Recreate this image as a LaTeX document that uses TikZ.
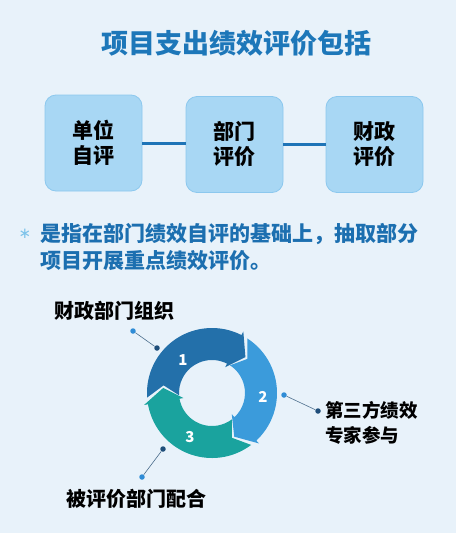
\documentclass[tikz,border=0pt]{standalone}
\usepackage{fontspec}
\newfontfamily\cjk{Noto Sans CJK SC}
\newfontfamily\dejavu{DejaVu Sans}
\definecolor{bgc}{HTML}{E8F2FA}
\definecolor{titlec}{HTML}{1D77B9}
\definecolor{textc}{HTML}{1C6FB0}
\definecolor{boxfill}{HTML}{A8D7F4}
\definecolor{boxline}{HTML}{8CC8EE}
\definecolor{linkc}{HTML}{1E74B7}
\definecolor{segA}{HTML}{2370AA}
\definecolor{segB}{HTML}{3B9BDB}
\definecolor{segC}{HTML}{1AA39E}
\definecolor{dotlc}{HTML}{2F8CD6}
\definecolor{dotdc}{HTML}{1F4E7A}
\definecolor{leadc}{HTML}{4C6E8C}
\definecolor{starc}{HTML}{7CC3EA}
\tikzset{
  box/.style={draw=boxline, line width=0.8pt, fill=boxfill, rounded corners=11pt,
    minimum width=97pt, minimum height=96pt, inner sep=0pt, align=center,
    font=\cjk\bfseries\fontsize{21}{25}\selectfont, text=black},
  link/.style={draw=linkc, line width=3pt},
  lbl/.style={inner sep=0pt, font=\cjk\bfseries\fontsize{20}{25}\selectfont, text=black},
  num/.style={inner sep=0pt, font=\cjk\bfseries\fontsize{15}{15}\selectfont, text=white},
  dotlight/.style={circle, fill=dotlc, inner sep=0pt, minimum size=5.5pt},
  dotdark/.style={circle, fill=dotdc, inner sep=0pt, minimum size=5.5pt},
  leader/.style={draw=leadc, line width=0.6pt},
}
\begin{document}
\begin{tikzpicture}[x=1pt,y=-1pt]
\fill[bgc] (0,0) rectangle (456,533);
\useasboundingbox (0,0) rectangle (456,533);

\node[inner sep=0pt, font=\cjk\bfseries\fontsize{27}{27}\selectfont, text=titlec] (title) at (236,43) {项目支出绩效评价包括};

\node[box] (b1) at (93.5,143) {单位\\自评};
\node[box] (b2) at (234.5,144.5) {部门\\评价};
\node[box] (b3) at (374.5,144.5) {财政\\评价};
\draw[link] (b1.east |- 0,143) -- (b2.west |- 0,143);
\draw[link] (b2.east |- 0,144) -- (b3.west |- 0,144);

\node[inner sep=0pt, font=\dejavu\fontsize{15}{15}\selectfont, text=starc] (star) at (25,234) {∗};
\node[inner sep=0pt, anchor=west, align=left, font=\cjk\bfseries\fontsize{21}{27}\selectfont, text=textc] (para) at (40,247.5) {是指在部门绩效自评的基础上，抽取部分\\项目开展重点绩效评价。};

\begin{scope}[shift={(212,393)}, yscale=-1]
  \fill[segA] (184:65) arc[start angle=184,end angle=63,radius=65] -- (63:69) -- (47:49) -- (63:29) -- (63:33) arc[start angle=63,end angle=184,radius=33] -- (171:49) -- cycle;
  \fill[segB] (57:65) arc[start angle=57,end angle=-47,radius=65] -- (-47:69) -- (-63:49) -- (-47:29) -- (-47:33) arc[start angle=-47,end angle=57,radius=33] -- (44:49) -- cycle;
  \fill[segC] (-53:65) arc[start angle=-53,end angle=-170,radius=65] -- (-170:69) -- (-186:49) -- (-170:29) -- (-170:33) arc[start angle=-170,end angle=-53,radius=33] -- (-66:49) -- cycle;
\end{scope}
\node[num] (n1) at (183,360) {1};
\node[num] (n2) at (263,397) {2};
\node[num] (n3) at (190,437) {3};

\node[dotlight] (d1a) at (133,331) {};
\node[dotdark] (d1b) at (157,348) {};
\draw[leader] (d1a) -- (d1b);
\node[dotlight] (d2a) at (284,395) {};
\node[dotdark] (d2b) at (318,411) {};
\draw[leader] (d2a) -- (d2b);
\node[dotdark] (d3a) at (163,449) {};
\node[dotlight] (d3b) at (142,477) {};
\draw[leader] (d3a) -- (d3b);

\node[lbl] (l1) at (114,311) {财政部门组织};
\node[lbl, anchor=west, align=left, font=\cjk\bfseries\fontsize{18.5}{25}\selectfont] (l2) at (325,422.5) {第三方绩效\\专家参与};
\node[lbl] (l3) at (136,499) {被评价部门配合};
\end{tikzpicture}
\end{document}
